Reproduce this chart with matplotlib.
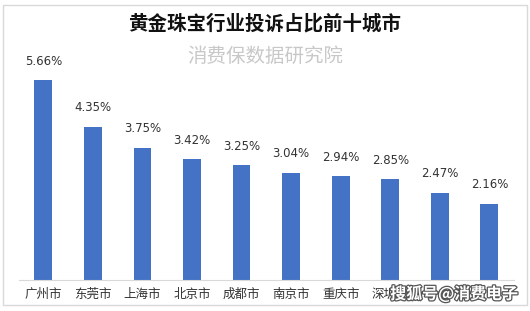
import matplotlib as mpl
import matplotlib.pyplot as plt
import matplotlib.patheffects as pe
from matplotlib.patches import Rectangle

mpl.rcParams['font.family'] = ['Noto Sans CJK SC', 'DejaVu Sans']

cities = ['广州市', '东莞市', '上海市', '北京市', '成都市', '南京市', '重庆市', '深圳市', '', '']
shares = [5.66, 4.35, 3.75, 3.42, 3.25, 3.04, 2.94, 2.85, 2.47, 2.16]
value_labels = ['5.66%', '4.35%', '3.75%', '3.42%', '3.25%', '3.04%', '2.94%', '2.85%', '2.47%', '2.16%']

fig = plt.figure(figsize=(5.3, 3.11), dpi=100)
fig.patch.set_facecolor('white')

# outer frame of the picture
fig.patches.append(Rectangle((0.006, 0.02), 0.988, 0.965, transform=fig.transFigure,
                             fill=False, edgecolor='#d9d9d9', linewidth=1))

ax = fig.add_axes([0.035, 0.1, 0.935, 0.74])
x = list(range(len(cities)))
ax.bar(x, shares, width=0.36, color='#4472C4')
ax.set_xlim(-0.5, len(cities) - 0.5)
ax.set_ylim(0, 6.53)

for xi, v, lab in zip(x, shares, value_labels):
    ax.annotate(lab, (xi, v), xytext=(0, 9), textcoords='offset points',
                ha='center', va='bottom', fontsize=8.5, color='#333333',
                family='DejaVu Sans')

ax.set_xticks(x)
ax.set_xticklabels(cities, fontsize=9, color='#333333')
ax.tick_params(axis='x', length=0, pad=6)
ax.set_yticks([])
for s in ['top', 'right', 'left']:
    ax.spines[s].set_visible(False)
ax.spines['bottom'].set_color('#d9d9d9')

fig.text(0.5, 0.925, '黄金珠宝行业投诉占比前十城市', ha='center', va='center',
         fontsize=14, fontweight='bold', color='#111111')
fig.text(0.5, 0.82, '消费保数据研究院', ha='center', va='center',
         fontsize=14, color='#c8c8c8', fontweight='light')

# watermark in the lower right
fig.text(0.857, 0.055, '搜狐号@消费电子', ha='center', va='center', fontsize=11.5,
         fontweight='bold', color='white',
         path_effects=[pe.withStroke(linewidth=1.8, foreground='#555555')])

fig.savefig('out.png', dpi=100)
plt.close(fig)
